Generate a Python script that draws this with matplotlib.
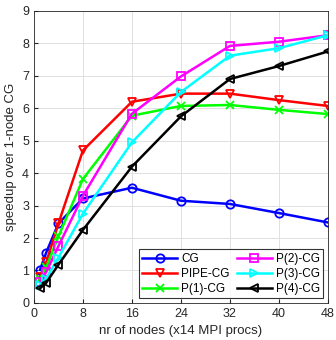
import matplotlib.pyplot as plt

plt.rcParams['font.family'] = ['Liberation Sans', 'DejaVu Sans']

nodes = [1, 2, 4, 8, 16, 24, 32, 40, 48]
cg = [1.02, 1.55, 2.45, 3.22, 3.55, 3.15, 3.05, 2.77, 2.48]
pipe_cg = [0.8, 1.25, 2.45, 4.7, 6.2, 6.45, 6.45, 6.25, 6.07]
p1_cg = [0.75, 1.1, 2.05, 3.82, 5.77, 6.07, 6.1, 5.95, 5.82]
p2_cg = [0.65, 0.95, 1.75, 3.3, 5.83, 6.98, 7.92, 8.05, 8.25]
p3_cg = [0.55, 0.75, 1.4, 2.75, 4.95, 6.5, 7.62, 7.85, 8.25]
p4_cg = [0.45, 0.62, 1.18, 2.25, 4.2, 5.75, 6.9, 7.3, 7.75]

series = [
    ('CG', cg, '#0000ff', 'o'),
    ('PIPE-CG', pipe_cg, '#ff0000', 'v'),
    ('P(1)-CG', p1_cg, '#00ff00', 'x'),
    ('P(2)-CG', p2_cg, '#ff00ff', 's'),
    ('P(3)-CG', p3_cg, '#00ffff', '>'),
    ('P(4)-CG', p4_cg, '#000000', '<'),
]

fig = plt.figure(figsize=(3.36, 3.4), dpi=100)
ax = fig.add_axes([0.101, 0.109, 0.875, 0.859])

for name, vals, col, mk in series:
    ax.plot(nodes, vals, color=col, marker=mk, markersize=6, lw=1.8,
            markerfacecolor='none', markeredgewidth=1.3, label=name)

ax.set_xlim(0, 48)
ax.set_ylim(0, 9)
ax.set_xticks(range(0, 49, 8))
ax.set_yticks(range(0, 10))
ax.grid(True, color='#e0e0e0', lw=0.7)
ax.set_axisbelow(True)
ax.tick_params(labelsize=9, direction='in', length=3, colors='#262626')
for s in ax.spines.values():
    s.set_color('#262626')
    s.set_linewidth(0.6)
ax.set_xlabel('nr of nodes (x14 MPI procs)', fontsize=9.5, color='#262626')
ax.set_ylabel('speedup over 1-node CG', fontsize=9.5, color='#262626')

leg = ax.legend(ncol=2, loc='lower right', fontsize=8.5, frameon=True,
                fancybox=False, edgecolor='k', handlelength=3.0,
                columnspacing=0.6, labelspacing=0.25, borderpad=0.3,
                handletextpad=0.3, borderaxespad=0.4)
leg.get_frame().set_linewidth(0.8)

fig.savefig('out.png', dpi=100)
